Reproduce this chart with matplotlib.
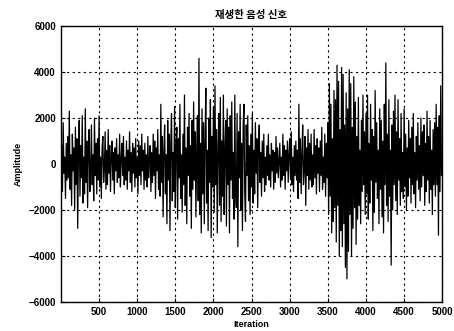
import numpy as np
import matplotlib
matplotlib.use("Agg")
import matplotlib.pyplot as plt

title_text = "재생한 음성 신호"
x_label = "Iteration"
y_label = "Amplitude"
x_ticks = [500, 1000, 1500, 2000, 2500, 3000, 3500, 4000, 4500, 5000]
y_ticks = [-6000, -4000, -2000, 0, 2000, 4000, 6000]
sample_step = 10

signal = [
    0, 800, -1200, 1800, -400, 300, -1500, 900, -700, 1200,
    -600, 2300, -1100, 400, -1800, 1300, -300, 700, -2000, 1600,
    -900, 1100, -2800, 500, 1900, -1400, 800, -600, 2100, -1700,
    300, -1300, 2400, -800, 1000, -1900, 600, 1500, -1200, -300,
    1700, -900, 400, -1600, 2000, -500, 900, -1300, 1100, -700,
    2100, -1000, 300, -1500, 700, 1200, -800, -200, 1400, -1100,
    600, -900, 1500, -400, 800, -1200, 300, 1000, -700, 500,
    -1300, 700, -300, 1100, -800, 400, -600, 1300, -1000, 200,
    900, -500, 1200, -900, 300, -700, 1000, -1100, 600, -300,
    1400, -800, 500, -1200, 900, -400, 700, -1000, 1100, -600,
    300, -1300, 1000, -500, 800, -900, 1300, -300, 600, -1100,
    900, -700, 400, -1000, 1200, -600, 200, 800, -1200, 500,
    -800, 1300, -500, 1000, -1500, 700, -300, 1500, -1100, 400,
    -1400, 2600, -800, 1200, -2300, 600, 1700, -1300, 400, -2600,
    1900, -700, 1300, -2900, 900, 2200, -1600, 500, -1200, 2500,
    -1900, 800, 1600, -2400, 1100, -600, 2600, -1500, 400, -2100,
    1300, -900, 3000, -1800, 700, -2600, 1600, -500, 2200, -1400,
    800, -2800, 1900, -1100, 2700, -700, 1400, -2300, 600, 2100,
    -1600, 4600, -2200, 900, -3000, 2400, -1300, 1800, -2600, 1100,
    3300, -1700, 600, -2900, 2000, -800, 2800, -3200, 1200, -1000,
    2500, -2100, 3400, -900, 1500, -3000, 700, 2200, -1800, 2900,
    -2500, 1000, -1400, 3000, -2200, 600, 1900, -2700, 2400, -900,
    1600, -3000, 2100, -700, 2700, -1500, 500, -2400, 3000, -1100,
    -1900, 2200, -3600, 1400, -600, 2600, -2000, 900, -2900, 1800,
    2600, -1200, -2500, 1700, -500, 2100, -1600, 800, -2200, 1300,
    -1000, 2200, -1700, 600, -1300, 1800, -400, 1100, -1900, 700,
    1700, -800, 500, -1400, 1000, -600, 1300, -1200, 300, -900,
    800, -500, 1300, -700, 400, -1000, 900, -300, 600, -1100,
    500, -800, 1200, -400, 700, -600, 200, 900, -1000, 300,
    -700, 1300, -500, 800, -1100, 600, -300, 1000, -800, 400,
    1100, -600, 1400, -900, 300, -1200, 800, -500, 1000, -700,
    600, -1500, 2600, -800, 1100, -1300, 400, 1700, -900, -300,
    1200, -1800, 700, -500, 1500, -1100, 900, -700, 1300, -1000,
    400, -900, 1500, -600, 800, -1300, 1100, -400, 700, -1200,
    1000, -500, 1600, -1100, 300, -800, 1300, -1400, 900, -600,
    1800, -2200, 3500, -1400, 2600, -3000, 1100, -2500, 3200, -1900,
    2800, -3400, 4300, -1800, 3600, -4000, 1500, -2900, 4200, -3600,
    3900, -2600, 1700, -4500, 3100, -5000, 2400, -3800, 4100, -2200,
    3500, -4000, 1600, -2800, 3800, -1900, 2700, -3500, 1200, -2400,
    2900, -1800, 600, -2600, 1900, -1200, 3000, -900, 1400, -2200,
    2200, -1300, 3000, -2400, 900, -1700, 2600, -700, 1500, -2900,
    1200, -2100, 3200, -800, 1800, -1500, 600, -2600, 2400, -1100,
    1900, -2300, 1000, -3000, 2600, -900, 4400, -1800, 1300, -2500,
    2800, -1400, 600, -4400, 1700, -2000, 2300, -900, 3000, -1600,
    1400, -2200, 2800, -700, 1100, -1800, 2200, -1200, 500, -1500,
    2400, -1000, 1300, -2000, 700, -1400, 1900, -600, 1100, -1700,
    1600, -900, 2200, -1300, 500, -1900, 1200, -700, 1800, -1100,
    800, -1600, 2000, -1000, 1400, -500, 1700, -1800, 900, -1200,
    2300, -700, 1200, -1700, 1900, -1100, 600, -2200, 1500, -900,
    1800, -1400, 2600, -900, 1600, -3100, 2100, -1200, 3400, -500,
]
iterations = np.arange(len(signal)) * sample_step + 1

fig = plt.figure(figsize=(4.54, 3.31), dpi=100)
ax = fig.add_axes([0.134, 0.088, 0.840, 0.833])
ax.plot(iterations, signal, color="black", linewidth=0.9)
ax.set_xlim(0, 5000)
ax.set_ylim(-6000, 6000)
ax.set_xticks(x_ticks)
ax.set_yticks(y_ticks)
ax.grid(True, color="black", linestyle=(0, (2, 3)), linewidth=0.8)
ax.tick_params(direction="in", length=3, labelsize=7, width=0.8)
for lab in ax.get_xticklabels() + ax.get_yticklabels():
    lab.set_family("Liberation Sans")
    lab.set_fontweight("bold")
for s in ax.spines.values():
    s.set_linewidth(1.0)
ax.set_title(title_text, fontsize=7.5, fontweight="bold",
             family=["Noto Sans CJK KR", "DejaVu Sans"], pad=6)
ax.set_xlabel(x_label, fontsize=6.5, fontweight="bold", family="Liberation Sans", labelpad=2)
ax.set_ylabel(y_label, fontsize=6.5, fontweight="bold", family="Liberation Sans", labelpad=4)
fig.savefig("out.png", dpi=100)
